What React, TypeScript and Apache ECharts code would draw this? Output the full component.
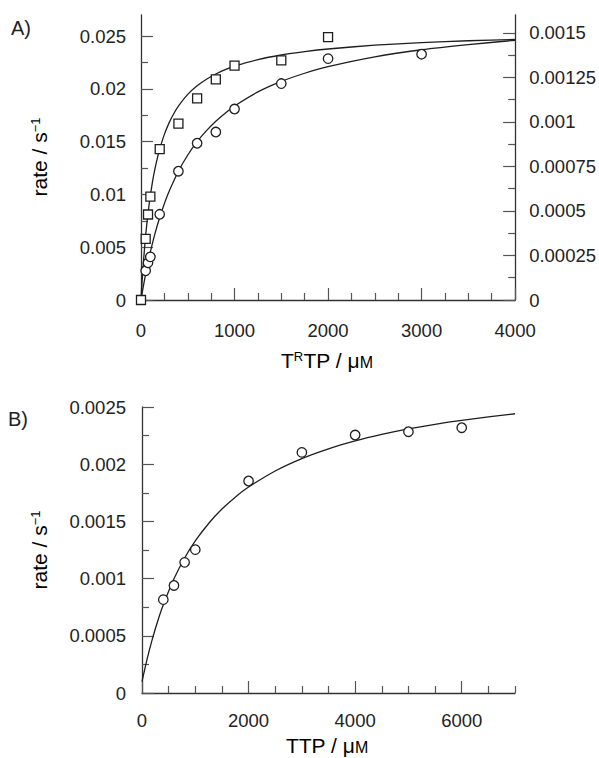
import React, { useEffect, useRef } from "react";
import * as echarts from "echarts";

// ---------- Panel A : TRTP ----------
// squares (left axis, rate / s^-1)
const aSquareX = [0, 50, 75, 100, 200, 400, 600, 800, 1000, 1500, 2000];
const aSquareY = [0, 0.0058, 0.0081, 0.0098, 0.0143, 0.0167, 0.0191, 0.0209, 0.0222, 0.0227, 0.0249];
// circles (right axis)
const aCircleX = [50, 75, 100, 200, 400, 600, 800, 1000, 1500, 2000, 3000];
const aCircleY = [0.000164, 0.000209, 0.000242, 0.000481, 0.000723, 0.00088, 0.000943, 0.001072, 0.001215, 0.001355, 0.00138];
// fitted curve through squares (left axis)
const aFitSquareX = [0, 10, 25, 50, 75, 100, 125, 150, 175, 200, 250, 300, 350, 400, 500, 600, 700, 800, 900, 1000, 1250, 1500, 1750, 2000, 2500, 3000, 3500, 4000];
const aFitSquareY = [0, 0.00152, 0.00349, 0.00614, 0.00823, 0.00991, 0.0113, 0.01246, 0.01345, 0.0143, 0.01569, 0.01678, 0.01765, 0.01837, 0.01948, 0.02029, 0.02092, 0.02141, 0.02182, 0.02215, 0.02277, 0.02321, 0.02353, 0.02378, 0.02414, 0.02438, 0.02456, 0.02469];
// fitted curve through circles (right axis)
const aFitCircleX = [0, 10, 25, 50, 75, 100, 150, 200, 250, 300, 400, 500, 600, 700, 800, 900, 1000, 1250, 1500, 1750, 2000, 2500, 3000, 3500, 4000];
const aFitCircleY = [0, 0.0000317, 0.000077, 0.000147, 0.000211, 0.00027, 0.000374, 0.000463, 0.000541, 0.000609, 0.000723, 0.000814, 0.000889, 0.000951, 0.001004, 0.001049, 0.001089, 0.001168, 0.001227, 0.001273, 0.00131, 0.001365, 0.001405, 0.001434, 0.001458];

// ---------- Panel B : TTP ----------
const bCircleX = [400, 600, 800, 1000, 2000, 3000, 4000, 5000, 6000];
const bCircleY = [0.000816, 0.00094, 0.001142, 0.001253, 0.001853, 0.002103, 0.002255, 0.002284, 0.002319];
const bFitX = [0, 100, 200, 300, 400, 600, 800, 1000, 1250, 1500, 1750, 2000, 2500, 3000, 3500, 4000, 4500, 5000, 5500, 6000, 6500, 7000];
const bFitY = [0.0001, 0.000305, 0.000482, 0.000636, 0.000771, 0.000998, 0.00118, 0.001329, 0.001482, 0.001608, 0.001712, 0.0018, 0.001941, 0.002049, 0.002134, 0.002203, 0.00226, 0.002308, 0.002349, 0.002384, 0.002414, 0.002441];

// ---------- tick values ----------
const aLeftMajor = [0, 0.005, 0.01, 0.015, 0.02, 0.025];
const aLeftMinor = [0.0025, 0.0075, 0.0125, 0.0175, 0.0225];
const aRightMajor = [0, 0.00025, 0.0005, 0.00075, 0.001, 0.00125, 0.0015];
const aRightMinor = [0.000125, 0.000375, 0.000625, 0.000875, 0.001125, 0.001375];
const bXMajor = [0, 2000, 4000, 6000];
const bXMinor = [500, 1000, 1500, 2500, 3000, 3500, 4500, 5000, 5500, 6500, 7000];

const FONT = "'Liberation Sans', Arial, Helvetica, sans-serif";
const INK = "#1e1e1e";
const AXIS = "#333";
const TICK = "#555";
const LABEL = "#222";

const fmt = (v: number) => String(parseFloat(Number(v).toPrecision(8)));
const pairs = (xs: number[], ys: number[]) => xs.map((x, i) => [x, ys[i]]);

const labelStyle = (margin: number) => ({
  show: true,
  margin,
  fontSize: 18.5,
  fontFamily: FONT,
  color: LABEL,
  formatter: fmt,
});

const lineStyle = { color: AXIS, width: 1.3 };
const tickLine = { color: TICK, width: 1.2 };

function majorAxis(extra: any) {
  return {
    type: "value",
    axisLine: { show: true, onZero: false, lineStyle },
    axisTick: { show: true, inside: true, length: 12, lineStyle: tickLine },
    splitLine: { show: false },
    ...extra,
  };
}
function minorAxis(extra: any, values: number[]) {
  return {
    type: "value",
    axisLine: { show: false, onZero: false },
    axisLabel: { show: false },
    splitLine: { show: false },
    axisTick: { show: true, inside: true, length: 7, lineStyle: tickLine, customValues: values },
    ...extra,
  };
}

const curve = (xi: number, yi: number, xs: number[], ys: number[]) => ({
  type: "line",
  xAxisIndex: xi,
  yAxisIndex: yi,
  data: pairs(xs, ys),
  smooth: 0.2,
  showSymbol: false,
  clip: false,
  lineStyle: { color: INK, width: 1.3 },
  silent: true,
  z: 2,
});
const marks = (xi: number, yi: number, xs: number[], ys: number[], symbol: string) => ({
  type: "scatter",
  xAxisIndex: xi,
  yAxisIndex: yi,
  data: pairs(xs, ys),
  symbol,
  symbolSize: symbol === "rect" ? 9 : 9.5,
  clip: false,
  itemStyle: { color: "#fff", borderColor: INK, borderWidth: 1.3, opacity: 1 },
  z: 3,
});

const titleRich = {
  n: { fontSize: 21, fontFamily: FONT, color: LABEL, verticalAlign: "bottom" },
  sup: { fontSize: 13, fontFamily: FONT, color: LABEL, verticalAlign: "top" },
  sc: { fontSize: 16, fontFamily: FONT, color: LABEL, verticalAlign: "bottom" },
};

const option: any = {
  animation: false,
  backgroundColor: "#fff",
  grid: [
    { left: 141, top: 15, width: 375, height: 285 },
    { left: 142, top: 407, width: 373, height: 286 },
  ],
  xAxis: [
    majorAxis({
      gridIndex: 0,
      position: "bottom",
      min: 0,
      max: 4000,
      interval: 1000,
      minorTick: { show: true, splitNumber: 4, length: 7, lineStyle: tickLine },
      axisLabel: labelStyle(21),
    }),
    majorAxis({
      gridIndex: 1,
      position: "bottom",
      min: 0,
      max: 7000,
      axisTick: { show: true, inside: true, length: 12, lineStyle: tickLine, customValues: bXMajor },
      axisLabel: { ...labelStyle(18), customValues: bXMajor },
    }),
    minorAxis({ gridIndex: 1, position: "bottom", min: 0, max: 7000 }, bXMinor),
  ],
  yAxis: [
    majorAxis({
      gridIndex: 0,
      position: "left",
      min: 0,
      max: 0.027,
      axisTick: { show: true, inside: true, length: 12, lineStyle: tickLine, customValues: aLeftMajor },
      axisLabel: { ...labelStyle(15), customValues: aLeftMajor },
    }),
    minorAxis({ gridIndex: 0, position: "left", min: 0, max: 0.027 }, aLeftMinor),
    majorAxis({
      gridIndex: 0,
      position: "right",
      min: 0,
      max: 0.0016,
      axisTick: { show: true, inside: true, length: 12, lineStyle: tickLine, customValues: aRightMajor },
      axisLabel: { ...labelStyle(14), customValues: aRightMajor },
    }),
    minorAxis({ gridIndex: 0, position: "right", min: 0, max: 0.0016 }, aRightMinor),
    majorAxis({
      gridIndex: 1,
      position: "left",
      min: 0,
      max: 0.0025,
      interval: 0.0005,
      minorTick: { show: true, splitNumber: 2, length: 7, lineStyle: tickLine },
      axisLabel: labelStyle(16),
    }),
  ],
  series: [
    curve(0, 0, aFitSquareX, aFitSquareY),
    curve(0, 2, aFitCircleX, aFitCircleY),
    curve(1, 4, bFitX, bFitY),
    marks(0, 0, aSquareX, aSquareY, "rect"),
    marks(0, 2, aCircleX, aCircleY, "circle"),
    marks(1, 4, bCircleX, bCircleY, "circle"),
  ],
  graphic: [
    {
      type: "text",
      x: 11,
      y: 28,
      style: { text: "A)", font: `20px ${FONT}`, fill: LABEL, align: "left", verticalAlign: "middle" },
    },
    {
      type: "text",
      x: 8,
      y: 419,
      style: { text: "B)", font: `20px ${FONT}`, fill: LABEL, align: "left", verticalAlign: "middle" },
    },
    {
      type: "text",
      x: 39,
      y: 157,
      rotation: Math.PI / 2,
      style: { text: "{n|rate / s}{sup|−1}", rich: titleRich, align: "center", verticalAlign: "middle" },
    },
    {
      type: "text",
      x: 39,
      y: 550,
      rotation: Math.PI / 2,
      style: { text: "{n|rate / s}{sup|−1}", rich: titleRich, align: "center", verticalAlign: "middle" },
    },
    {
      type: "text",
      x: 327,
      y: 360,
      style: { text: "{n|T}{sup|R}{n|TP / μ}{sc|M}", rich: titleRich, align: "center", verticalAlign: "middle" },
    },
    {
      type: "text",
      x: 327,
      y: 745,
      style: { text: "{n|TTP / μ}{sc|M}", rich: titleRich, align: "center", verticalAlign: "middle" },
    },
  ],
};

export default function App() {
  const ref = useRef<HTMLDivElement>(null);
  useEffect(() => {
    if (!ref.current) return;
    const chart = echarts.init(ref.current, null, { renderer: "svg" });
    chart.setOption(option);
    return () => chart.dispose();
  }, []);
  return (
    <div
      ref={ref}
      style={{ position: "fixed", left: 0, top: 0, width: 599, height: 758, background: "#fff" }}
    />
  );
}
